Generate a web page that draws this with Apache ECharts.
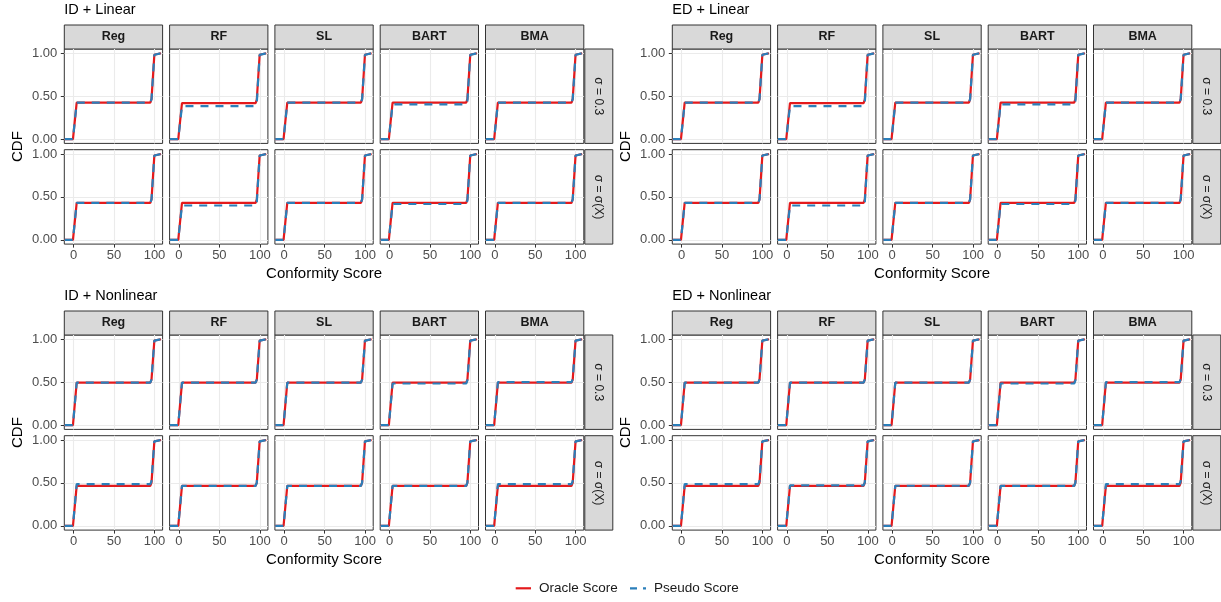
<!DOCTYPE html>
<html><head><meta charset="utf-8">
<script src="https://cdn.jsdelivr.net/npm/echarts@6.0.0/dist/echarts.min.js"></script>
<style>html,body{margin:0;padding:0;background:#fff}#c{width:1221px;height:602px}</style>
</head><body><div id="c"></div>
<script>
// ---------- data ----------
const blockTitles = ['ID + Linear', 'ED + Linear', 'ID + Nonlinear', 'ED + Nonlinear'];
const models = ['Reg', 'RF', 'SL', 'BART', 'BMA'];
const sigmaLabels = ['\u03C3 = 0.3', '\u03C3 = \u03C3(X)'];
const seriesNames = ['Oracle Score', 'Pseudo Score'];
const xTicks = [0, 50, 100];
const yTicks = [0, 0.5, 1];

// conformity-score positions where the CDF curves bend
const scoreX = [-11, -0.8, 3.8, 50, 94.8, 96.3, 99.8, 101.5, 108];
// share of the first jump (0 -> plateau) reached at the first 4 score positions
const firstJump = [0, 0, 1, 1];
// share of the second jump (plateau -> 1) reached at the last 5 score positions
const secondJump = [0, 0.07, 0.97, 1, 1];

// plateau CDF level: [block][sigma row][model]
const oracleLevel = [
  [[0.425, 0.42, 0.425, 0.425, 0.425], [0.43, 0.43, 0.43, 0.43, 0.43]],
  [[0.425, 0.42, 0.425, 0.425, 0.425], [0.43, 0.43, 0.43, 0.43, 0.43]],
  [[0.495, 0.495, 0.495, 0.495, 0.495], [0.465, 0.465, 0.465, 0.465, 0.465]],
  [[0.495, 0.495, 0.495, 0.495, 0.495], [0.465, 0.465, 0.465, 0.465, 0.465]]
];
const pseudoLevel = [
  [[0.425, 0.385, 0.425, 0.405, 0.425], [0.43, 0.40, 0.43, 0.417, 0.43]],
  [[0.425, 0.385, 0.425, 0.405, 0.425], [0.43, 0.40, 0.43, 0.417, 0.43]],
  [[0.495, 0.495, 0.495, 0.485, 0.50], [0.485, 0.465, 0.465, 0.465, 0.485]],
  [[0.495, 0.495, 0.495, 0.485, 0.50], [0.485, 0.47, 0.467, 0.465, 0.485]]
];

// ---------- layout / style ----------
const FONT = '"Liberation Sans", Arial, Helvetica, sans-serif';
const RED = '#E41A1C', BLUE = '#2B7FBA';
const DASH = [8, 7];
const blockLeft = [64.3, 672.3, 64.3, 672.3];
const blockTop = [49, 49, 335, 335];
const PW = 98.3, PGX = 7, PH = 94.4, PGY = 6.3, SH = 24, RSW = 28;

function curve(level) {
  return scoreX.map((x, i) => {
    const y = i < firstJump.length
      ? level * firstJump[i]
      : level + (1 - level) * secondJump[i - firstJump.length];
    return [x, y];
  });
}

function txt(x, y, text, size, extra) {
  return Object.assign({ type: 'text', x: x, y: y, silent: true,
    style: Object.assign({ text: text, fontSize: size, fontFamily: FONT, fill: '#000',
      textAlign: 'center', textVerticalAlign: 'middle', align: 'center', verticalAlign: 'middle' }, (extra && extra.style) || {}) },
    extra ? { rotation: extra.rotation || 0 } : {});
}

const grids = [], xAxes = [], yAxes = [], series = [], graphics = [];

blockTitles.forEach((title, b) => {
  const L = blockLeft[b], T = blockTop[b];
  const totalW = 5 * PW + 4 * PGX;
  graphics.push(txt(L, T - 39, title, 14.5, { style: { textAlign: 'left', align: 'left' } }));
  graphics.push(txt(L - 46.5, T + PH + PGY / 2, 'CDF', 15, { rotation: Math.PI / 2 }));
  graphics.push(txt(L + totalW / 2, T + 2 * PH + PGY + 29.5, 'Conformity Score', 15));

  models.forEach((m, c) => {
    const gx = L + c * (PW + PGX);
    graphics.push({ type: 'rect', silent: true, shape: { x: gx, y: T - SH, width: PW, height: SH },
      style: { fill: '#D9D9D9', stroke: '#333333', lineWidth: 1 } });
    graphics.push(txt(gx + PW / 2, T - SH / 2, m, 12.5, { style: { fontWeight: 'bold', fill: '#1A1A1A' } }));
  });

  sigmaLabels.forEach((s, r) => {
    const gy = T + r * (PH + PGY);
    const sx = L + totalW + 1;
    graphics.push({ type: 'rect', silent: true, shape: { x: sx, y: gy, width: RSW, height: PH },
      style: { fill: '#D9D9D9', stroke: '#333333', lineWidth: 1 } });
    graphics.push(txt(sx + RSW / 2, gy + PH / 2, s, 12, { rotation: -Math.PI / 2, style: { fill: '#1A1A1A' } }));

    models.forEach((m, c) => {
      const gx = L + c * (PW + PGX);
      const gi = grids.length;
      grids.push({ left: gx, top: gy, width: PW, height: PH, show: true,
        borderColor: '#333333', borderWidth: 1, backgroundColor: '#fff', containLabel: false, outerBoundsMode: 'none' });
      xAxes.push({ gridIndex: gi, type: 'value', min: -11.5, max: 110, position: 'bottom',
        axisLine: { show: false, onZero: false },
        axisTick: { show: r === 1, length: 3.5, lineStyle: { color: '#333333', width: 1 }, customValues: xTicks },
        axisLabel: { show: r === 1, customValues: xTicks, margin: 4.5, fontSize: 13, color: '#4D4D4D', fontFamily: FONT },
        splitLine: { show: true, lineStyle: { color: '#EBEBEB', width: 1.1 } } });
      yAxes.push({ gridIndex: gi, type: 'value', min: -0.05, max: 1.05, position: 'left',
        axisLine: { show: false, onZero: false },
        axisTick: { show: c === 0, length: 3.5, lineStyle: { color: '#333333', width: 1 }, customValues: yTicks },
        axisLabel: { show: c === 0, customValues: yTicks, margin: 7, fontSize: 13, color: '#4D4D4D', fontFamily: FONT,
          formatter: v => Number(v).toFixed(2) },
        splitLine: { show: true, lineStyle: { color: '#EBEBEB', width: 1.1 } } });
      series.push({ name: seriesNames[0], type: 'line', xAxisIndex: gi, yAxisIndex: gi,
        data: curve(oracleLevel[b][r][c]), symbol: 'none', showSymbol: false, silent: true, z: 2,
        lineStyle: { color: RED, width: 2.2 }, itemStyle: { color: RED } });
      series.push({ name: seriesNames[1], type: 'line', xAxisIndex: gi, yAxisIndex: gi,
        data: curve(pseudoLevel[b][r][c]), symbol: 'none', showSymbol: false, silent: true, z: 3,
        lineStyle: { color: BLUE, width: 2.2, type: DASH }, itemStyle: { color: BLUE } });
    });
  });
});

// legend (drawn as graphic items for ggplot-like keys)
const LY = 588.3;
graphics.push({ type: 'line', silent: true, shape: { x1: 515.7, y1: LY, x2: 531, y2: LY },
  style: { stroke: RED, lineWidth: 2.2 } });
graphics.push(txt(539, LY, seriesNames[0], 13.5, { style: { textAlign: 'left', align: 'left', fill: '#1A1A1A' } }));
graphics.push({ type: 'line', silent: true, shape: { x1: 630, y1: LY, x2: 646, y2: LY },
  style: { stroke: BLUE, lineWidth: 2.2, lineDash: [7, 6] } });
graphics.push(txt(654, LY, seriesNames[1], 13.5, { style: { textAlign: 'left', align: 'left', fill: '#1A1A1A' } }));

const chart = echarts.init(document.getElementById('c'), null, { renderer: 'canvas' });
chart.setOption({
  animation: false,
  backgroundColor: '#fff',
  grid: grids, xAxis: xAxes, yAxis: yAxes, series: series,
  graphic: graphics
});
</script></body></html>
